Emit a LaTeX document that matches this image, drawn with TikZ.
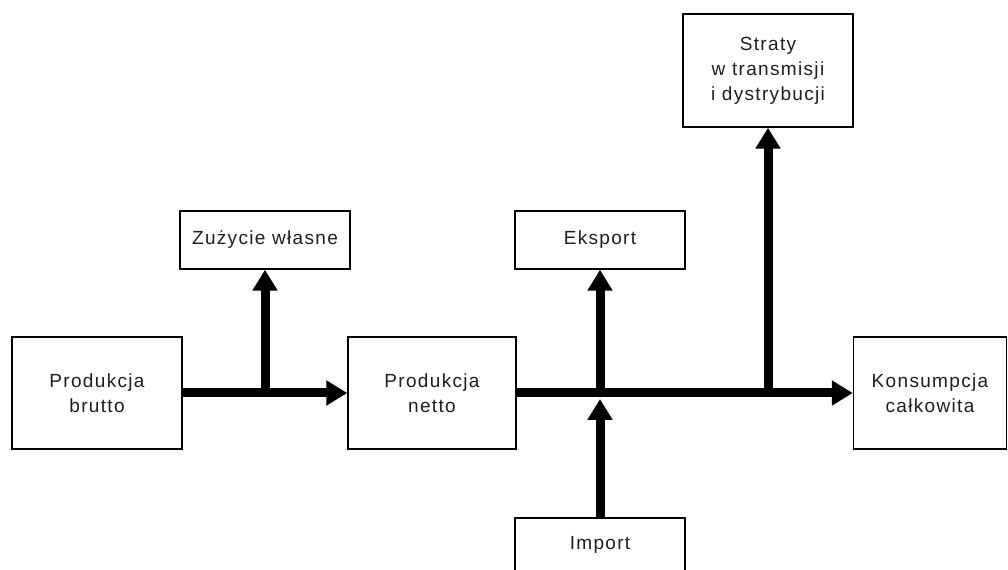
\documentclass[tikz,border=0pt]{standalone}
\usepackage{fontspec}
\setmainfont{Liberation Sans}[LetterSpace=7]
\usetikzlibrary{arrows.meta}

\begin{document}
\begin{tikzpicture}[x=0.75pt,y=-0.75pt,
  box/.style={draw=black,line width=1.1pt,fill=white,rectangle,inner sep=0pt,
    align=center,font=\fontsize{14.25}{18.75}\selectfont,text=black!88},
  flow/.style={line width=6.75pt,-{Triangle[length=15.75pt,width=18pt]}},
  bar/.style={line width=6.75pt}]
  \useasboundingbox (0,0) rectangle (1008,570);

  % flow stages
  \node[box,minimum width=127.5pt,minimum height=84pt] (brutto) at (97,393) {Produkcja\\brutto};
  \node[box,minimum width=127.5pt,minimum height=43.5pt] (zuzycie) at (265,240) {Zużycie własne};
  \node[box,minimum width=126pt,minimum height=84pt] (netto) at (432,393) {Produkcja\\netto};
  \node[box,minimum width=127.5pt,minimum height=43.5pt] (eksport) at (600,240) {Eksport};
  \node[box,minimum width=127.5pt,minimum height=84.75pt] (straty) at (768,70.5) {Straty\\w transmisji\\i dystrybucji};
  \node[box,minimum width=114.75pt,minimum height=84pt] (konsum) at (930,393) {Konsumpcja\\całkowita};
  \node[box,minimum width=127.5pt,minimum height=40.5pt] (import) at (600,545) {Import};

  % branching points on the main lines
  \coordinate (j1) at (zuzycie.south |- brutto.east);
  \coordinate (j2) at (eksport.south |- netto.east);
  \coordinate (j3) at (straty.south |- netto.east);
  \coordinate (ji) at ([yshift=-4.5pt]j2);

  % main flow
  \draw[flow] (brutto.east) -- (netto.west);
  \draw[flow] (netto.east) -- (konsum.west);

  % branches
  \draw[flow] (j1) -- (zuzycie.south);
  \draw[flow] (j2) -- (eksport.south);
  \draw[flow] (j3) -- (straty.south);
  \draw[flow] (import.north) -- (ji);
\end{tikzpicture}
\end{document}
